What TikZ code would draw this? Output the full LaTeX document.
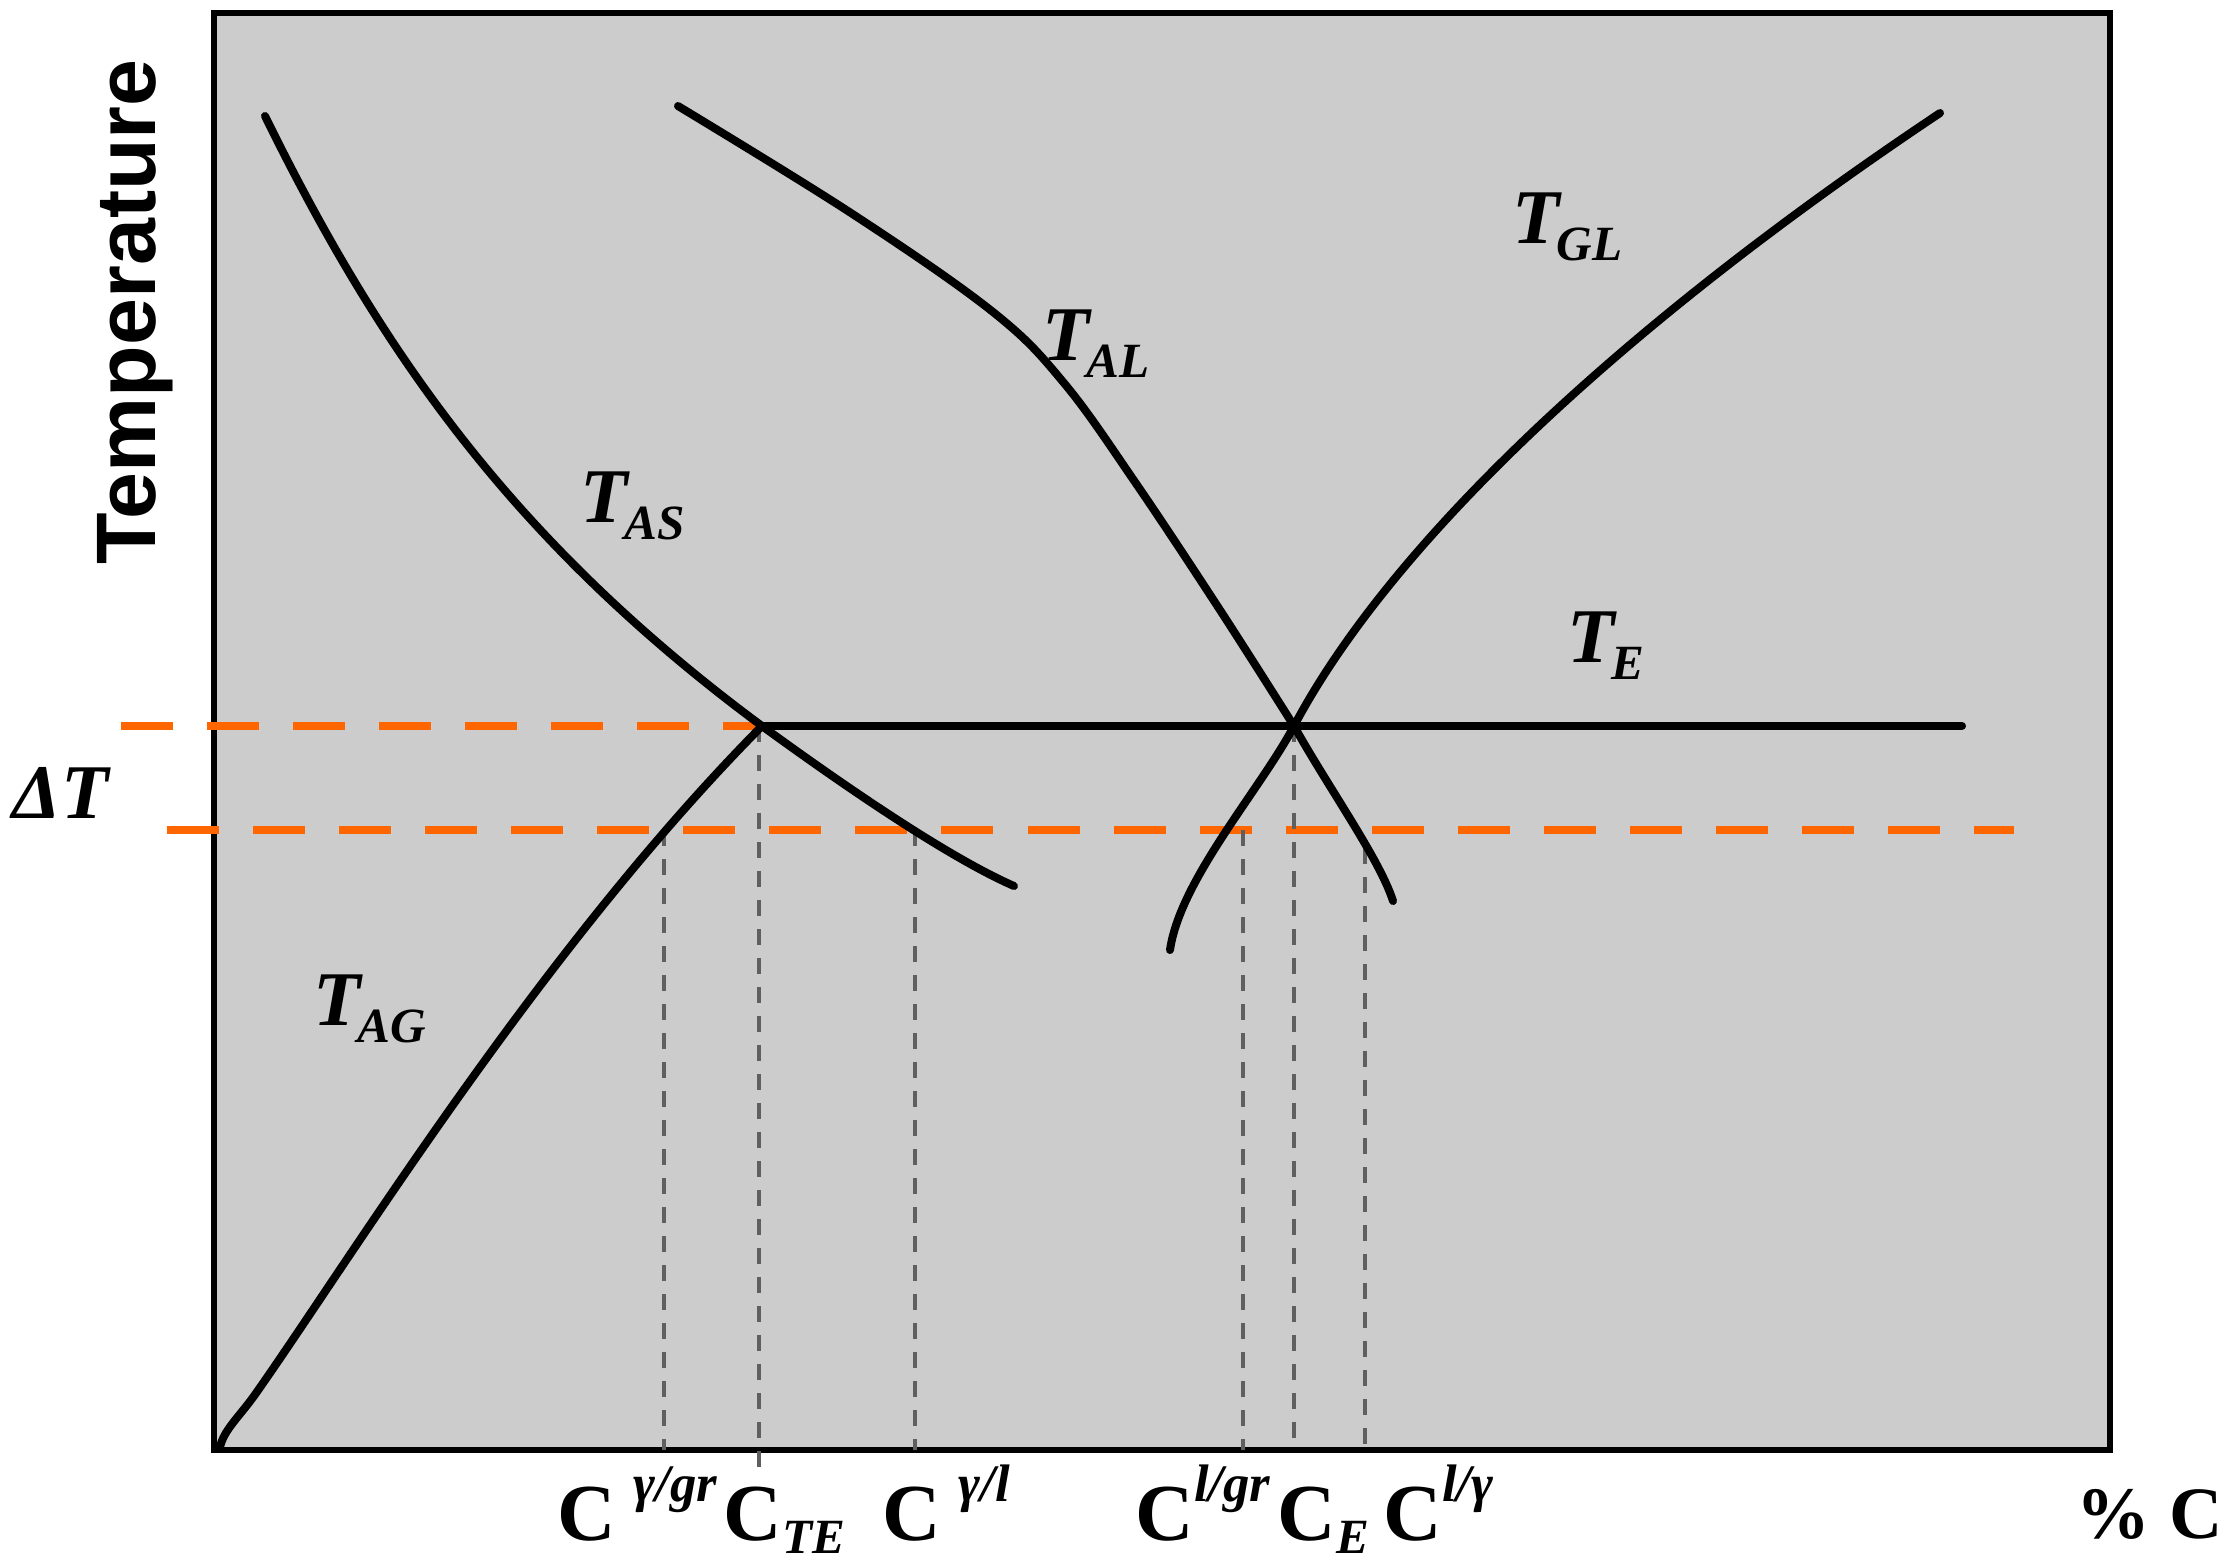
\documentclass[tikz,border=0pt]{standalone}
\usepackage{fontspec}
\setmainfont{Liberation Serif}
\newfontfamily\tempfont{Liberation Sans}
\definecolor{bg}{RGB}{204,204,204}
\definecolor{orng}{RGB}{255,102,0}
\definecolor{guidegray}{RGB}{95,95,95}
\newcommand\supf{\fontsize{15}{15}\selectfont\bfseries\itshape}
\newcommand\subf{\fontsize{14}{14}\selectfont\bfseries\itshape}
\newcommand\Csup[1]{\raisebox{11pt}{\supf #1}}
\newcommand\Csub[1]{\raisebox{-3.8pt}{\subf #1}}
\newcommand\Tsub[1]{\raisebox{-5pt}{\fontsize{14}{14}\selectfont\bfseries\itshape #1}}
\begin{document}
\begin{tikzpicture}[x={(0.01cm,0)}, y={(0,-0.01cm)},
  curve/.style={line width=0.08cm, line cap=round, line join=round},
  guide/.style={guidegray, line width=0.035cm, dash pattern=on 0.16cm off 0.13cm},
  orangedash/.style={orng, line width=0.08cm, dash pattern=on 0.52cm off 0.34cm},
  clab/.style={anchor=base west, inner sep=0, font=\fontsize{23}{23}\selectfont\bfseries},
  tlab/.style={anchor=base west, inner sep=0, font=\fontsize{22}{22}\selectfont\bfseries\itshape}]
\useasboundingbox (0,0) rectangle (2224,1565);
% frame
\draw[fill=bg, line width=0.06cm] (214,13) rectangle (2110,1450);
% key points
\coordinate (te) at (762,726);
\coordinate (e) at (1294,726);
\coordinate (teend) at (1962,726);
% orange dashed lines
\coordinate (o1s) at (121,726);
\coordinate (o2s) at (167,830);
\coordinate (o2e) at (2014,830);
\draw[orangedash] (o1s) -- (te);
\draw[orangedash] (o2s) -- (o2e);
% guide lines
\coordinate (g1t) at (664,830);   \coordinate (g1b) at (664,1450);
\coordinate (g2t) at (759,726);   \coordinate (g2b) at (759,1480);
\coordinate (g3t) at (915,830);   \coordinate (g3b) at (915,1450);
\coordinate (g4t) at (1243,830);  \coordinate (g4b) at (1243,1450);
\coordinate (g5t) at (1294,726);  \coordinate (g5b) at (1294,1450);
\coordinate (g6t) at (1365,848);  \coordinate (g6b) at (1365,1450);
\foreach \g in {1,...,6} {\draw[guide] (g\g t) -- (g\g b);}
% T_AS
\draw[curve] (265,116) .. controls (380,350) and (512,541) .. (te)
  .. controls (850,790) and (950,858) .. (1014,886);
% T_AG
\draw[curve] (220,1447) .. controls (224,1430) and (238,1418) .. (254,1396)
  .. controls (350,1260) and (540,950) .. (te);
% T_AL
\draw[curve] plot[smooth, tension=0.6] coordinates {(678,106) (851,213) (993,312) (1064,383) (1135,482) (1220,610) (1294,726)};
\draw[curve] (e) .. controls (1330,790) and (1380,860) .. (1393,901);
% T_GL
\draw[curve] (1940,113) .. controls (1600,340) and (1384,556) .. (e)
  .. controls (1260,790) and (1180,880) .. (1170,950);
% T_E
\draw[curve] (te) -- (teend);
% curve labels
\node[tlab] (tas) at (580,522) {T\kern-1pt\Tsub{AS}};
\node[tlab] (tal) at (1042,360) {T\kern-1pt\Tsub{AL}};
\node[tlab] (tgl) at (1512,243) {T\kern-1pt\Tsub{GL}};
\node[tlab] (tE) at (1567,662) {T\kern-1pt\Tsub{E}};
\node[tlab] (tag) at (313,1025) {T\kern-1pt\Tsub{AG}};
\node[tlab] (dT) at (12,818) {ΔT};
% axis labels
\node[anchor=base west, inner sep=0, rotate=90, font=\fontsize{24}{24}\selectfont\tempfont\bfseries] (temp) at (155,565) {Temperature};
\node[clab, font=\fontsize{21}{21}\selectfont\bfseries] (pc) at (2076,1538) {\% C};
% bottom labels
\node[clab] (c1) at (557,1540) {C\hspace{5pt}\Csup{γ/gr}};
\node[clab] (c2) at (723,1540) {C\Csub{TE}};
\node[clab] (c3) at (882,1540) {C\hspace{5pt}\Csup{γ/l}};
\node[clab] (c4) at (1135,1540) {C\Csup{l/gr}};
\node[clab] (c5) at (1277,1540) {C\Csub{E}};
\node[clab] (c6) at (1383,1540) {C\Csup{l/γ}};
\end{tikzpicture}
\end{document}
